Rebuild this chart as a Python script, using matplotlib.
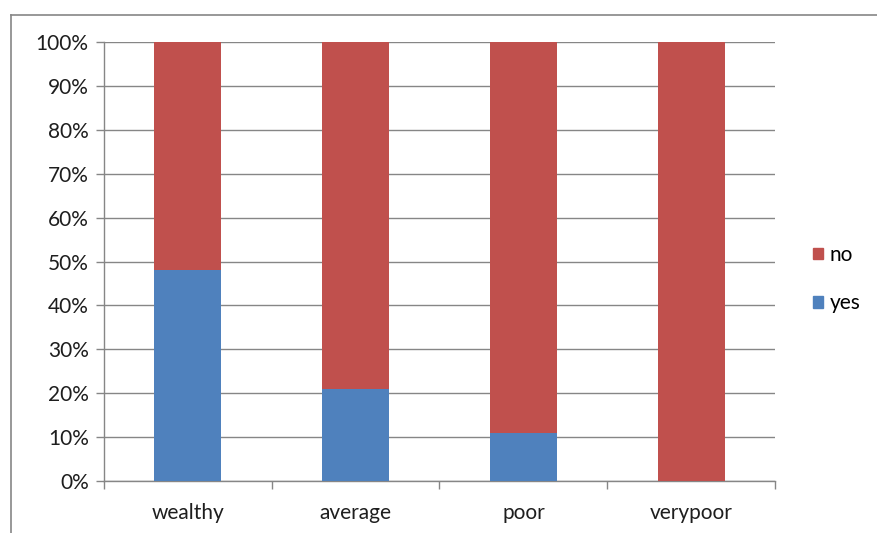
import matplotlib.pyplot as plt
from matplotlib.lines import Line2D
from matplotlib.patches import Patch

categories = ["wealthy", "average", "poor", "verypoor"]
yes = [48, 21, 11, 0]
no = [52, 79, 89, 100]

plt.rcParams['font.family'] = ['Lato', 'DejaVu Sans']
grey = '#868686'
red = '#C0504D'
blue = '#4F81BD'
fs = 15

fig = plt.figure(figsize=(8.77, 5.33), dpi=100)
ax = fig.add_axes([104/877, 1 - 481/533, 671/877, 439/533])

x = range(len(categories))
ax.bar(x, yes, width=0.4, color=blue, zorder=3)
ax.bar(x, no, width=0.4, bottom=yes, color=red, zorder=3)

ax.set_xlim(-0.5, len(categories) - 0.5)
ax.set_ylim(0, 100)
ax.set_yticks(range(0, 101, 10))
ax.set_yticklabels([f"{v}%" for v in range(0, 101, 10)])
ax.set_xticks(list(x))
ax.set_xticklabels(categories)
ax.set_xticks([i - 0.5 for i in range(len(categories) + 1)], minor=True)

ax.yaxis.grid(True, color=grey, linewidth=1)
ax.set_axisbelow(True)
for s in ['top', 'right']:
    ax.spines[s].set_visible(False)
for s in ['left', 'bottom']:
    ax.spines[s].set_color(grey)
    ax.spines[s].set_linewidth(1)

ax.tick_params(axis='y', direction='out', length=6, width=1, color=grey,
               pad=5, labelsize=fs, labelcolor='#1e1e1e')
ax.tick_params(axis='x', which='major', length=0, pad=16,
               labelsize=fs, labelcolor='#1e1e1e')
ax.tick_params(axis='x', which='minor', direction='out', length=6, width=1, color=grey)

handles = [Patch(color=red, label='no'), Patch(color=blue, label='yes')]
fig.legend(handles=handles, loc='center left', bbox_to_anchor=(794/877, 1 - 279/533),
           frameon=False, handlelength=0.5, handleheight=0.5, handletextpad=0.3,
           labelspacing=1.35, fontsize=fs)

# chart frame
fig.add_artist(Line2D([11/877, 11/877], [0, 1 - 14.5/533], color=grey, linewidth=1.2))
fig.add_artist(Line2D([11/877, 1], [1 - 14.5/533, 1 - 14.5/533], color=grey, linewidth=1.2))

fig.savefig('out.png', dpi=100)
